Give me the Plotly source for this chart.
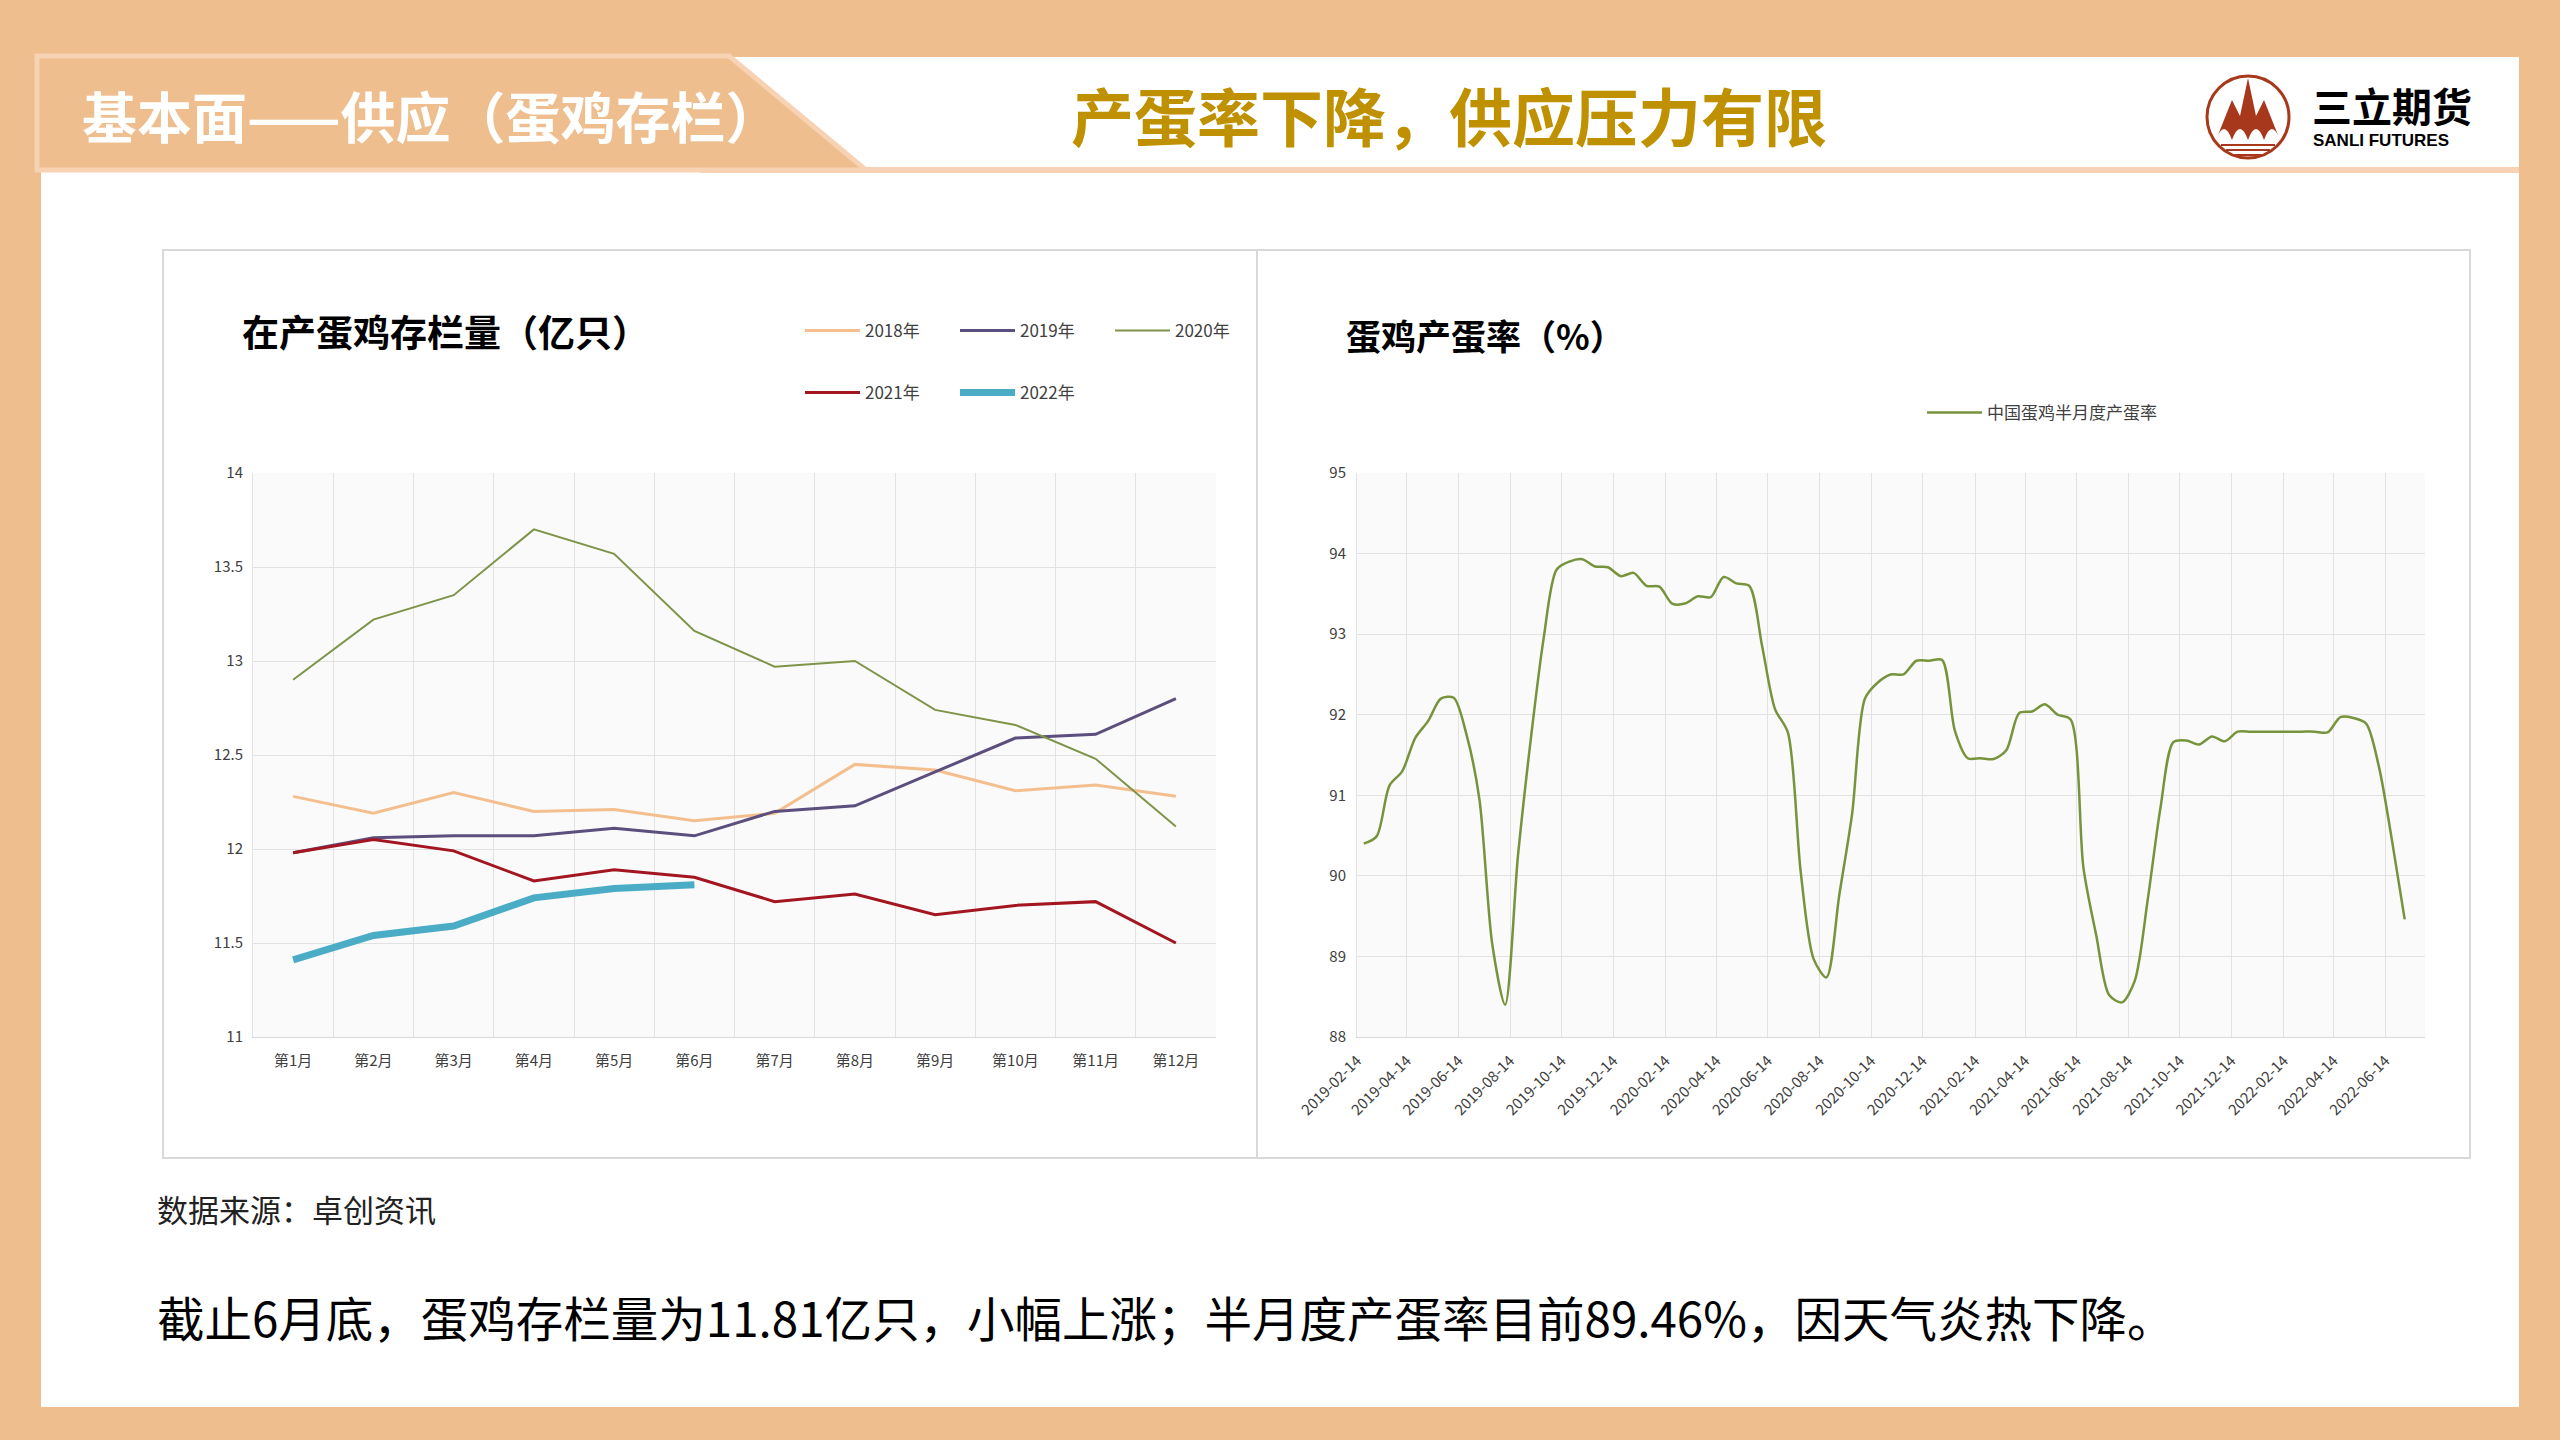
import pandas as pd
import plotly.graph_objects as go

W, H = 2560, 1440
CJK = "Noto Sans CJK SC"
NARROW = "Liberation Sans Narrow, Noto Sans CJK SC"

# ---- left chart: laying hens in production (100 million) ----
months = ["第1月", "第2月", "第3月", "第4月", "第5月", "第6月",
          "第7月", "第8月", "第9月", "第10月", "第11月", "第12月"]
stock_2018 = [12.28, 12.19, 12.30, 12.20, 12.21, 12.15, 12.19, 12.45, 12.42, 12.31, 12.34, 12.28]
stock_2019 = [11.98, 12.06, 12.07, 12.07, 12.11, 12.07, 12.20, 12.23, 12.41, 12.59, 12.61, 12.80]
stock_2020 = [12.90, 13.22, 13.35, 13.70, 13.57, 13.16, 12.97, 13.00, 12.74, 12.66, 12.48, 12.12]
stock_2021 = [11.98, 12.05, 11.99, 11.83, 11.89, 11.85, 11.72, 11.76, 11.65, 11.70, 11.72, 11.50]
stock_2022 = [11.41, 11.54, 11.59, 11.74, 11.79, 11.81]
left_yticks = [11, 11.5, 12, 12.5, 13, 13.5, 14]

# ---- right chart: semi-monthly laying rate (%) ----
rate = [90.40, 90.49, 91.12, 91.30, 91.71, 91.92, 92.20, 92.21, 91.75, 90.95,
        89.15, 88.40, 90.25, 91.70, 92.95, 93.80, 93.90, 93.93, 93.84, 93.83,
        93.72, 93.76, 93.60, 93.59, 93.38, 93.38, 93.47, 93.46, 93.71, 93.63,
        93.60, 92.85, 92.07, 91.78, 90.05, 88.97, 88.74, 89.76, 90.77, 92.20,
        92.40, 92.50, 92.50, 92.67, 92.67, 92.68, 91.80, 91.46, 91.46, 91.45,
        91.56, 92.02, 92.04, 92.13, 92.00, 91.94, 90.10, 89.26, 88.52, 88.43,
        88.70, 89.70, 90.85, 91.66, 91.68, 91.63, 91.73, 91.67, 91.79, 91.79,
        91.79, 91.79, 91.79, 91.79, 91.79, 91.78, 91.97, 91.96, 91.89, 91.35,
        90.45, 89.46]
rate_dates = pd.date_range("2019-02-22", "2022-07-07", periods=len(rate))
right_yticks = [88, 89, 90, 91, 92, 93, 94, 95]


def px(x):
    return x / W


def py(y):
    return 1 - y / H


def path(cmds):
    out = []
    for c in cmds:
        if isinstance(c, str):
            out.append(c)
        else:
            out.append(f"{px(c[0]):.5f},{py(c[1]):.5f}")
    return " ".join(out)


fig = go.Figure()

series = [
    ("2018年", stock_2018, "#F4BF8E", 3, "legend"),
    ("2019年", stock_2019, "#5C4F7E", 3, "legend"),
    ("2020年", stock_2020, "#7E9448", 2, "legend"),
    ("2021年", stock_2021, "#A31621", 3, "legend2"),
    ("2022年", stock_2022, "#4BACC6", 7, "legend2"),
]
for name, vals, color, width, leg in series:
    fig.add_trace(go.Scatter(x=months[:len(vals)], y=vals, name=name, mode="lines",
                             line=dict(color=color, width=width),
                             xaxis="x", yaxis="y", legend=leg))

fig.add_trace(go.Scatter(x=rate_dates, y=rate, name="中国蛋鸡半月度产蛋率", mode="lines",
                         line=dict(color="#77933C", width=2.5, shape="spline", smoothing=0.8),
                         xaxis="x2", yaxis="y2", legend="legend3"))

grid = "#E2E2E2"
tickfont = dict(family=NARROW, size=15, color="#404040")

legend_common = dict(orientation="h", xanchor="left", yanchor="middle",
                     entrywidthmode="pixels", itemwidth=55,
                     bgcolor="rgba(0,0,0,0)", traceorder="normal",
                     font=dict(family=NARROW, size=17, color="#404040"))

fig.update_layout(
    width=W, height=H,
    margin=dict(l=0, r=0, t=0, b=0, autoexpand=False),
    paper_bgcolor="white",
    plot_bgcolor="#FAFAFA",
    font=dict(family=CJK),
    xaxis=dict(domain=[px(253), px(1216)], anchor="y", type="category",
               categoryorder="array", categoryarray=months, range=[-0.5, 11.5],
               tickson="boundaries", showgrid=True, gridcolor=grid, ticks="",
               ticklabelstandoff=10,
               showline=True, linecolor="#D9D9D9", tickfont=tickfont),
    yaxis=dict(domain=[py(1037), py(473)], anchor="x", range=[11, 14],
               tickvals=left_yticks, showgrid=True, gridcolor=grid, zeroline=False,
               ticklabelstandoff=6,
               showline=True, linecolor=grid, ticks="", tickfont=tickfont),
    xaxis2=dict(domain=[px(1357), px(2425)], anchor="y2", type="date",
                range=["2019-02-14", "2022-07-31"], tick0="2019-02-14", dtick="M2",
                tickformat="%Y-%m-%d", tickangle=-45, showgrid=True, gridcolor=grid,
                ticklabelstandoff=8,
                ticks="", showline=True, linecolor="#D9D9D9", tickfont=tickfont),
    yaxis2=dict(domain=[py(1037), py(473)], anchor="x2", range=[88, 95],
                tickvals=right_yticks, showgrid=True, gridcolor=grid, zeroline=False,
                ticklabelstandoff=7,
                showline=True, linecolor=grid, ticks="", tickfont=tickfont),
    legend=dict(x=px(800), y=py(331), entrywidth=85, **legend_common),
    legend2=dict(x=px(800), y=py(393), entrywidth=85, **legend_common),
    legend3=dict(x=px(1922), y=py(413), **legend_common),
)

orange = "#EEBE8F"
red = "#A8381C"
shapes = [
    # orange frame
    dict(type="rect", x0=0, x1=1, y0=py(57), y1=1, fillcolor=orange, line_width=0),
    dict(type="rect", x0=0, x1=1, y0=0, y1=py(1407), fillcolor=orange, line_width=0),
    dict(type="rect", x0=0, x1=px(41), y0=0, y1=1, fillcolor=orange, line_width=0),
    dict(type="rect", x0=px(2519), x1=1, y0=0, y1=1, fillcolor=orange, line_width=0),
    # header underline
    dict(type="rect", x0=px(700), x1=px(2519), y0=py(173), y1=py(167),
         fillcolor="#F8D2B4", line_width=0),
    # header banner
    dict(type="path", path=path(["M", (37, 56), "L", (729, 56), "L", (866, 170), "L", (37, 170), "Z"]),
         fillcolor=orange, line=dict(color="#F7D2B3", width=5)),
    # chart boxes
    dict(type="rect", x0=px(163), x1=px(1257), y0=py(1158), y1=py(250),
         line=dict(color="#D9D9D9", width=2)),
    dict(type="rect", x0=px(1257), x1=px(2470), y0=py(1158), y1=py(250),
         line=dict(color="#D9D9D9", width=2)),
    # logo
    dict(type="circle", x0=px(2207), x1=px(2289), y0=py(158), y1=py(76),
         line=dict(color=red, width=3)),
    dict(type="path",
         path=path(["M", (2216, 140), "L", (2232, 100), "L", (2240, 116), "L", (2248, 78),
                    "L", (2256, 116), "L", (2264, 100), "L", (2280, 140),
                    "Q", (2272, 118), (2264, 140), "Q", (2256, 118), (2248, 140),
                    "Q", (2240, 118), (2232, 140), "Q", (2224, 118), (2216, 140), "Z"]),
         fillcolor=red, line_width=0),
]
for yy, half in [(145, 27), (150, 22), (155, 14)]:
    shapes.append(dict(type="line", x0=px(2248 - half), x1=px(2248 + half), y0=py(yy), y1=py(yy),
                       line=dict(color=red, width=2)))
for s in shapes:
    s.update(xref="paper", yref="paper", layer="below")

annotations = [
    dict(text="基本面——供应（蛋鸡存栏）", x=px(80), y=py(114),
         font=dict(size=55, color="white", family=CJK, weight="bold")),
    dict(text="产蛋率下降，供应压力有限", x=px(1069), y=py(114),
         font=dict(size=63, color="#BF9000", family=CJK, weight="bold")),
    dict(text="三立期货", x=px(2310), y=py(105),
         font=dict(size=40, color="black", family=CJK, weight="bold")),
    dict(text="SANLI FUTURES", x=px(2311), y=py(141),
         font=dict(size=17, color="black", family="Liberation Sans", weight="bold")),
    dict(text="在产蛋鸡存栏量（亿只）", x=px(240), y=py(331),
         font=dict(size=37, color="black", family=CJK, weight="bold")),
    dict(text="蛋鸡产蛋率（%）", x=px(1344), y=py(335),
         font=dict(size=35, color="black", family=CJK, weight="bold")),
    dict(text="数据来源：卓创资讯", x=px(155), y=py(1208),
         font=dict(size=31, color="#222222", family=CJK)),
    dict(text="截止6月底，蛋鸡存栏量为11.81亿只，小幅上涨；半月度产蛋率目前89.46%，因天气炎热下降。",
         x=px(155), y=py(1316), font=dict(size=47.5, color="black", family=CJK)),
]
for a in annotations:
    a.update(xref="paper", yref="paper", xanchor="left", yanchor="middle", showarrow=False)

fig.update_layout(shapes=shapes, annotations=annotations)

# drop the default page margin so the figure starts at the window corner
fig.write_html("out.html", config={"displayModeBar": False},
               post_script="document.body.style.margin='0';")
